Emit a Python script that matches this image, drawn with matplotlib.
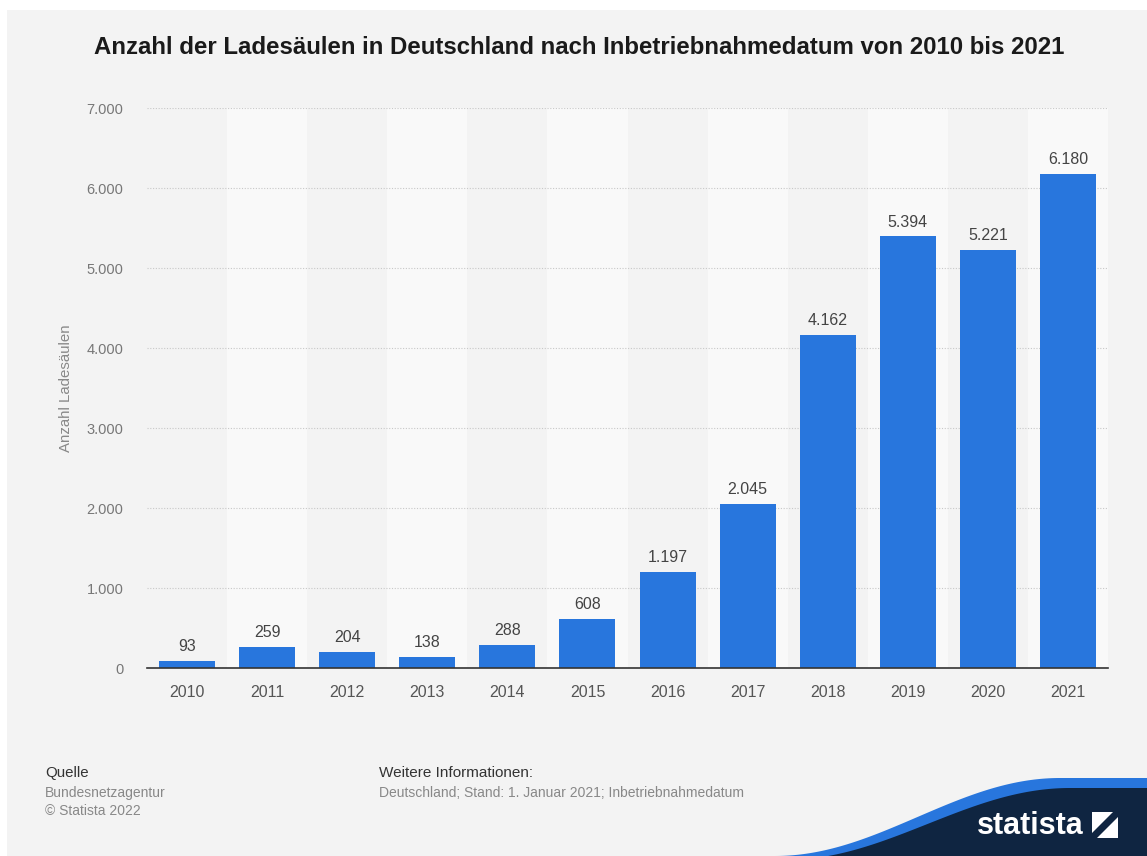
import numpy as np
import matplotlib.pyplot as plt
from matplotlib.patches import Rectangle, Polygon

plt.rcParams['font.family'] = ['Liberation Sans', 'DejaVu Sans']

years = ['2010', '2011', '2012', '2013', '2014', '2015', '2016', '2017', '2018', '2019', '2020', '2021']
counts = [93, 259, 204, 138, 288, 608, 1197, 2045, 4162, 5394, 5221, 6180]
yticks = [0, 1000, 2000, 3000, 4000, 5000, 6000, 7000]

W, H = 1147, 856
BG = '#f3f3f3'
BAR = '#2876dd'


def fx(px):
    return px / W


def fy(py):
    return 1 - py / H


def de_num(v):
    return '{:,}'.format(v).replace(',', '.')


fig = plt.figure(figsize=(W / 100, H / 100), dpi=100, facecolor='white')
fig.patches.append(Rectangle((fx(7), 0), 1 - fx(7), fy(10), transform=fig.transFigure,
                             facecolor=BG, edgecolor='none', zorder=-5))

ax = fig.add_axes([fx(147), fy(668), fx(1108) - fx(147), fy(108) - fy(668)])
ax.set_facecolor(BG)
x = np.arange(len(years))

# lighter bands behind every second year
for i in x[1::2]:
    ax.axvspan(i - 0.5, i + 0.5, color='#f9f9f9', zorder=0, lw=0)

ax.bar(x, counts, width=0.7, color=BAR, zorder=3)
for xi, v in zip(x, counts):
    ax.annotate(de_num(v), (xi, v), xytext=(0, 5), textcoords='offset points',
                ha='center', va='bottom', fontsize=11.5, color='#444444')

ax.set_xlim(-0.5, len(years) - 0.5)
ax.set_ylim(0, 7000)
ax.set_xticks(x)
ax.set_xticklabels(years)
ax.set_yticks(yticks)
ax.set_yticklabels([de_num(v) for v in yticks])
ax.grid(axis='y', linestyle=(0, (1, 1.5)), color='#c8c8c8', linewidth=0.8, zorder=1)
ax.tick_params(axis='x', length=0, pad=12.5, labelsize=11.5, labelcolor='#555555')
ax.tick_params(axis='y', length=0, pad=17, labelsize=10.5, labelcolor='#777777')
for s in ['top', 'right', 'left']:
    ax.spines[s].set_visible(False)
ax.spines['bottom'].set_color('#333333')
ax.spines['bottom'].set_linewidth(1.2)
ax.spines['bottom'].set_zorder(4)
ax.set_ylabel('Anzahl Ladesäulen', fontsize=10.8, color='#888888', labelpad=10)

fig.text(fx(579), fy(48), 'Anzahl der Ladesäulen in Deutschland nach Inbetriebnahmedatum von 2010 bis 2021',
         ha='center', va='center', fontsize=17.3, fontweight='bold', color='#1a1a1a')

# footer
fig.text(fx(45), fy(773), 'Quelle', fontsize=10.8, color='#333333', va='center')
fig.text(fx(45), fy(793), 'Bundesnetzagentur', fontsize=10, color='#888888', va='center')
fig.text(fx(45), fy(811), '© Statista 2022', fontsize=10, color='#888888', va='center')
fig.text(fx(379), fy(773), 'Weitere Informationen:', fontsize=11, color='#333333', va='center')
fig.text(fx(379), fy(793), 'Deutschland; Stand: 1. Januar 2021; Inbetriebnahmedatum',
         fontsize=10, color='#888888', va='center')

# statista wave
t = np.linspace(0, 1, 100)
s = 0.5 - 0.5 * np.cos(np.pi * t)
wx = 775 + t * (1060 - 775)
wy_blue = 856 - s * (856 - 778)
wy_navy = 860 - s * (860 - 788)
blue_pts = [(fx(a), fy(b)) for a, b in zip(wx, wy_blue)] + [(fx(W), fy(778)), (fx(W), fy(H)), (fx(775), fy(H))]
navy_pts = [(fx(a + 10), fy(b)) for a, b in zip(wx, wy_navy)] + [(fx(W), fy(788)), (fx(W), fy(H)), (fx(785), fy(H))]
fig.patches.append(Polygon(blue_pts, closed=True, transform=fig.transFigure,
                           facecolor=BAR, edgecolor='none', zorder=1))
fig.patches.append(Polygon(navy_pts, closed=True, transform=fig.transFigure,
                           facecolor='#0f2541', edgecolor='none', zorder=2))
fig.text(fx(1084), fy(826), 'statista', ha='right', va='center', fontsize=22,
         fontweight='bold', color='white', zorder=5)
fig.patches.append(Rectangle((fx(1092), fy(838)), fx(26), fy(812) - fy(838), transform=fig.transFigure,
                             facecolor='white', edgecolor='none', zorder=5))
fig.patches.append(Polygon([(fx(1092), fy(833)), (fx(1113), fy(812)), (fx(1118), fy(812)), (fx(1118), fy(817)),
                            (fx(1097), fy(838)), (fx(1092), fy(838))], closed=True, transform=fig.transFigure,
                           facecolor='#0f2541', edgecolor='none', zorder=6))

fig.savefig('out.png', dpi=100)
